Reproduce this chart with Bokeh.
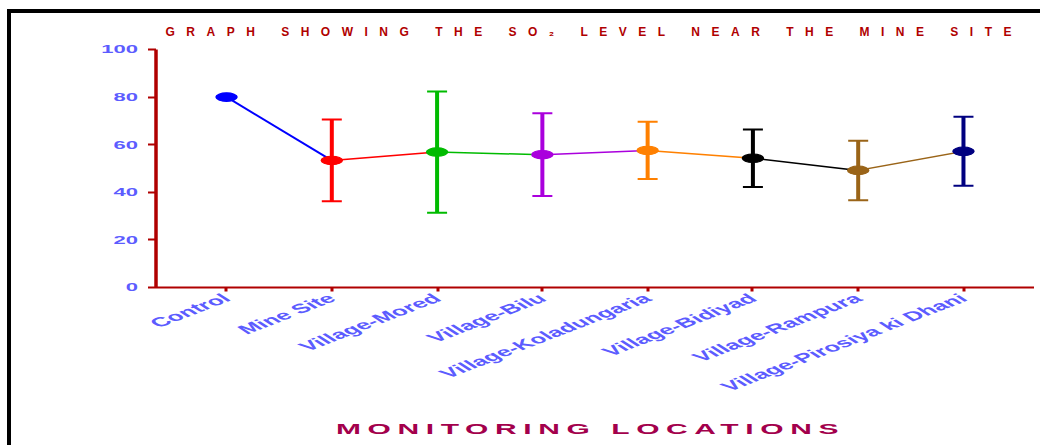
import math

from bokeh.embed import file_html
from bokeh.layouts import column
from bokeh.models import FactorRange, FixedTicker, Label, Range1d
from bokeh.plotting import figure
from bokeh.resources import INLINE

# Monitoring locations and measured SO2 levels (mean and standard deviation)
locations = [
    "Control",
    "Mine Site",
    "Village-Mored",
    "Village-Bilu",
    "Village-Koladungaria",
    "Village-Bidiyad",
    "Village-Rampura",
    "Village-Pirosiya ki Dhani",
]
so2_mean = [80.0, 53.4, 56.9, 55.8, 57.6, 54.3, 49.2, 57.2]
so2_sd = [None, 17.2, 25.5, 17.4, 12.0, 12.1, 12.5, 14.5]
point_colors = ["#0000ff", "#ff0000", "#00bb00", "#aa00dd",
                "#ff8000", "#000000", "#9a6418", "#000080"]
y_ticks = [0, 20, 40, 60, 80, 100]

title_text = "GRAPH SHOWING THE SO\u2082 LEVEL NEAR THE MINE SITE"
x_title_text = "MONITORING LOCATIONS"

AXIS_RED = "#b00000"
TICK_BLUE = "#5c5cff"
FONT = "Liberation Sans"

# The chart body is stretched 2x horizontally with a CSS transform.  Bokeh
# sizes its canvas from the transformed box, so a host of width 258 gets a
# 516 px wide canvas, which is then shown 1032 px wide.
W = 1029
BODY_HOST_W = 258
STRETCH = {"transform": "scaleX(2)", "transform-origin": "0 0"}

# points that carry an error bar
err_loc, err_lo, err_hi, err_col = [], [], [], []
for loc, m, s, c in zip(locations, so2_mean, so2_sd, point_colors):
    if s is not None:
        err_loc.append(loc)
        err_lo.append(m - s)
        err_hi.append(m + s)
        err_col.append(c)

# ---- heading strip -------------------------------------------------------
head = figure(width=W, height=27, toolbar_location=None, output_backend="svg",
              x_axis_type=None, y_axis_type=None,
              min_border_left=72, min_border_right=0,
              min_border_top=0, min_border_bottom=0,
              x_range=Range1d(0, 1), y_range=Range1d(0, 1),
              frame_align=False,
              outline_line_color=None, styles={"letter-spacing": "11.5px"})
head.add_layout(Label(x=82, y=9, x_units="screen", y_units="screen",
                      text=title_text, text_font=FONT, text_font_style="bold",
                      text_font_size="12px", text_color="#b00000",
                      text_align="left", text_baseline="alphabetic"))

# ---- main chart ----------------------------------------------------------
p = figure(width=BODY_HOST_W, height=378, toolbar_location=None, output_backend="svg",
           x_range=FactorRange(*locations, range_padding=0.17,
                               range_padding_units="absolute"),
           y_range=Range1d(0, 100),
           min_border_left=72, min_border_right=5,
           min_border_top=9, min_border_bottom=131,
           frame_align=False,
           outline_line_color=None, styles=STRETCH)
p.grid.visible = False

# connecting line, each piece in the colour of the point it leaves
p.segment(x0=locations[:-1], y0=so2_mean[:-1], x1=locations[1:], y1=so2_mean[1:],
          line_color=point_colors[:-1], line_width=1.5)

# error bars with caps
p.segment(x0=err_loc, y0=err_lo, x1=err_loc, y1=err_hi,
          line_color=err_col, line_width=2)
p.scatter(x=err_loc, y=err_hi, marker="dash", size=10, line_width=2,
          line_color=err_col)
p.scatter(x=err_loc, y=err_lo, marker="dash", size=10, line_width=2,
          line_color=err_col)

# mean markers
p.ellipse(x=locations, y=so2_mean, width=0.195, height=3.6,
          fill_color=point_colors, line_color=point_colors)

for ax in (p.xaxis[0], p.yaxis[0]):
    ax.axis_line_color = AXIS_RED
    ax.major_tick_line_color = AXIS_RED
    ax.minor_tick_line_color = None
    ax.major_tick_in = 0
    ax.major_label_text_color = TICK_BLUE
    ax.major_label_text_font = FONT
    ax.major_label_text_font_style = "bold"

p.yaxis.ticker = FixedTicker(ticks=y_ticks)
p.yaxis.axis_line_width = 1.75
p.yaxis.major_tick_line_width = 2
p.yaxis.major_tick_out = 4
p.yaxis.major_label_text_font_size = "11px"
p.yaxis.major_label_standoff = 5

p.xaxis.axis_line_width = 2
p.xaxis.major_tick_line_width = 1.5
p.xaxis.major_tick_out = 4
p.xaxis.major_label_orientation = math.radians(37.5)
p.xaxis.major_label_text_font_size = "13px"
p.xaxis.major_label_standoff = 5

# ---- axis title strip ----------------------------------------------------
foot = figure(width=BODY_HOST_W, height=27, toolbar_location=None, output_backend="svg",
              x_axis_type=None, y_axis_type=None,
              min_border_left=72, min_border_right=5,
              min_border_top=0, min_border_bottom=0,
              x_range=Range1d(0, 1), y_range=Range1d(0, 1),
              frame_align=False,
              outline_line_color=None,
              styles=dict(STRETCH, **{"letter-spacing": "3.3px"}))
foot.add_layout(Label(x=90, y=17, x_units="screen", y_units="screen",
                      text=x_title_text, text_font=FONT, text_font_style="bold",
                      text_font_size="15px", text_color="#a3004c",
                      text_align="left", text_baseline="alphabetic"))

page = column(head, p, foot, spacing=0,
              styles={"margin-left": "7px", "margin-top": "9px",
                      "border-left": "4px solid black",
                      "border-top": "4px solid black",
                      "overflow": "hidden"})

open("out.html", "w").write(file_html(page, INLINE))
